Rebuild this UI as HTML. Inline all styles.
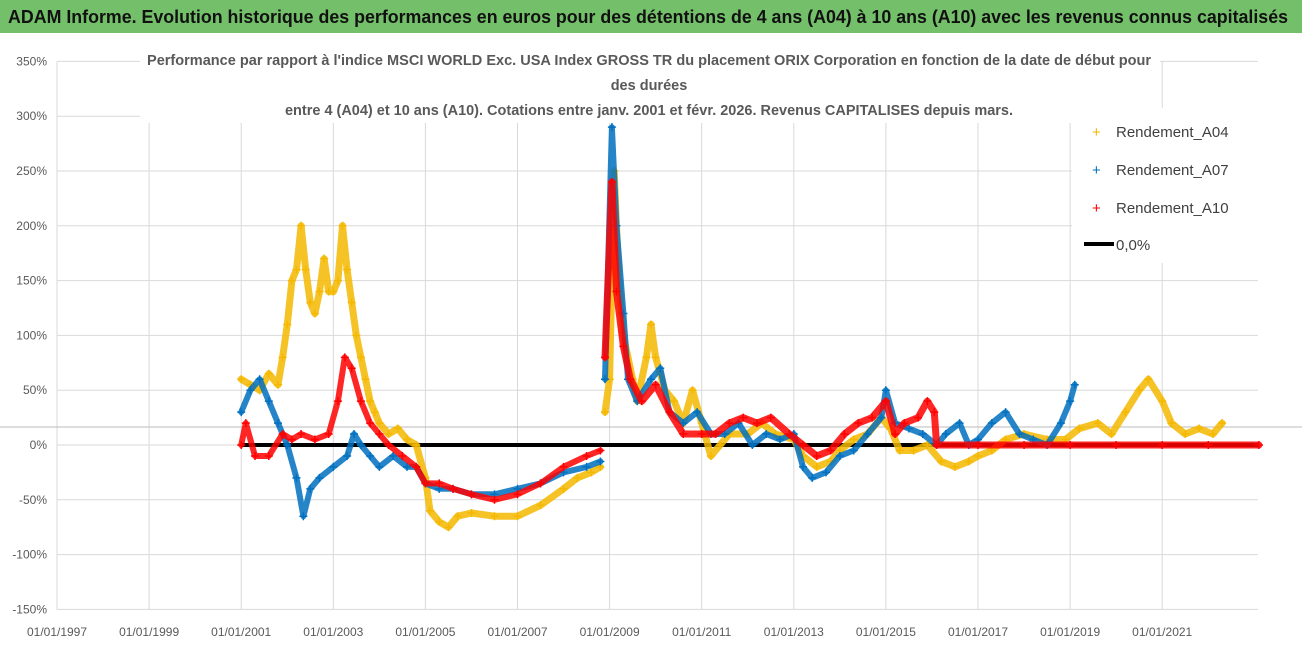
<!DOCTYPE html>
<html><head><meta charset="utf-8"><style>
html,body{margin:0;padding:0;background:#fff}
svg{display:block;font-family:"Liberation Sans",sans-serif}
</style></head><body>
<svg id="chart" width="1302" height="647" viewBox="0 0 1302 647">
<rect x="0" y="0" width="1302" height="647" fill="#fff"/>
<rect x="0" y="0" width="1302" height="33" fill="#74c06a"/>
<text x="8" y="23" font-size="18" font-weight="bold" fill="#111" textLength="1280" lengthAdjust="spacingAndGlyphs">ADAM Informe. Evolution historique des performances en euros pour des détentions de 4 ans (A04) à 10 ans (A10) avec les revenus connus capitalisés</text>
<g id="grid"></g>
<line x1="0" y1="427" x2="1302" y2="427" stroke="#bbb" stroke-width="1"/>
<rect x="140" y="45" width="1020" height="78" fill="#fff"/>
<g font-size="14.5" font-weight="bold" fill="#595959" text-anchor="middle">
<text x="649" y="65" textLength="1004" lengthAdjust="spacingAndGlyphs">Performance par rapport à l'indice MSCI WORLD Exc. USA Index GROSS TR  du placement ORIX Corporation en fonction de la date de début pour</text>
<text x="649" y="90">des durées</text>
<text x="649" y="115" textLength="728" lengthAdjust="spacingAndGlyphs">entre 4 (A04) et 10 ans (A10). Cotations entre janv. 2001 et févr. 2026. Revenus CAPITALISES depuis mars.</text>
</g>
<g id="axes"></g>
<g id="series"></g>
<g id="legend">
<rect x="1072" y="108" width="218" height="155" fill="#fff"/>
<text x="1092" y="137" font-size="15" fill="#f5b800">+</text>
<text x="1116" y="137" font-size="15" fill="#404040">Rendement_A04</text>
<text x="1092" y="175" font-size="15" fill="#0070c0">+</text>
<text x="1116" y="175" font-size="15" fill="#404040">Rendement_A07</text>
<text x="1092" y="213" font-size="15" fill="#ff0000">+</text>
<text x="1116" y="213" font-size="15" fill="#404040">Rendement_A10</text>
<line x1="1084" y1="244" x2="1114" y2="244" stroke="#000" stroke-width="4"/>
<text x="1116" y="250" font-size="15" fill="#404040">0,0%</text>
</g>
</svg>
<script>
const yTicks=[350,300,250,200,150,100,50,0,-50,-100,-150];
const xTickYears=[1997,1999,2001,2003,2005,2007,2009,2011,2013,2015,2017,2019,2021];
const a04Dates=[2001.0,2001.2,2001.4,2001.6,2001.8,2001.9,2002.0,2002.1,2002.2,2002.3,2002.4,2002.5,2002.6,2002.7,2002.8,2002.9,2003.0,2003.1,2003.2,2003.3,2003.4,2003.5,2003.6,2003.7,2003.8,2003.9,2004.0,2004.2,2004.4,2004.6,2004.8,2005.0,2005.1,2005.3,2005.5,2005.7,2006.0,2006.5,2007.0,2007.5,2008.0,2008.3,2008.6,2008.8];
const a04Vals=[60,55,50,65,55,80,110,150,160,200,160,130,120,140,170,140,140,150,200,160,130,100,80,60,40,30,20,10,15,5,0,-30,-60,-70,-75,-65,-62,-65,-65,-55,-40,-30,-25,-20];
const a04bDates=[2008.9,2009.0,2009.1,2009.2,2009.3,2009.5,2009.6,2009.8,2009.9,2010.0,2010.2,2010.4,2010.6,2010.8,2011.0,2011.2,2011.4,2011.6,2012.0,2012.3,2012.6,2013.0,2013.2,2013.5,2013.8,2014.0,2014.3,2014.6,2014.9,2015.1,2015.3,2015.6,2015.9,2016.2,2016.5,2016.8,2017.0,2017.3,2017.6,2018.0,2018.5,2018.9,2019.2,2019.6,2019.9,2020.2,2020.5,2020.7,2021.0,2021.2,2021.5,2021.8,2022.1,2022.3];
const a04bVals=[30,60,250,150,100,60,40,80,110,80,50,40,20,50,20,-10,0,10,10,20,10,5,-10,-20,-15,-5,5,10,25,15,-5,-5,0,-15,-20,-15,-10,-5,5,10,5,5,15,20,10,30,50,60,40,20,10,15,10,20];
const a07Dates=[2001.0,2001.2,2001.4,2001.6,2001.8,2002.0,2002.2,2002.35,2002.5,2002.7,2003.0,2003.3,2003.45,2003.6,2003.8,2004.0,2004.3,2004.6,2004.8,2005.0,2005.3,2005.6,2006.0,2006.5,2007.0,2007.5,2008.0,2008.5,2008.8];
const a07Vals=[30,50,60,40,20,0,-30,-65,-40,-30,-20,-10,10,0,-10,-20,-10,-20,-20,-35,-40,-40,-45,-45,-40,-35,-25,-20,-15];
const a07bDates=[2008.9,2009.05,2009.15,2009.3,2009.4,2009.6,2009.9,2010.1,2010.3,2010.6,2010.9,2011.2,2011.5,2011.8,2012.1,2012.4,2012.7,2013.0,2013.2,2013.4,2013.7,2014.0,2014.3,2014.6,2014.9,2015.0,2015.2,2015.5,2015.8,2016.1,2016.3,2016.6,2016.8,2017.0,2017.3,2017.6,2017.9,2018.2,2018.5,2018.8,2019.0,2019.1];
const a07bVals=[60,290,200,120,60,40,60,70,30,20,30,10,10,20,0,10,5,10,-20,-30,-25,-10,-5,10,25,50,20,15,10,0,10,20,0,5,20,30,10,5,0,20,40,55];
const a10Dates=[2001.0,2001.1,2001.3,2001.6,2001.9,2002.1,2002.3,2002.6,2002.9,2003.1,2003.25,2003.4,2003.6,2003.8,2004.0,2004.2,2004.5,2004.8,2005.0,2005.3,2005.6,2006.0,2006.5,2007.0,2007.5,2008.0,2008.5,2008.8];
const a10Vals=[0,20,-10,-10,10,5,10,5,10,40,80,70,40,20,10,0,-10,-20,-35,-35,-40,-45,-50,-45,-35,-20,-10,-5];
const a10bDates=[2008.9,2009.05,2009.15,2009.3,2009.45,2009.7,2010.0,2010.3,2010.6,2011.0,2011.3,2011.6,2011.9,2012.2,2012.5,2012.9,2013.2,2013.5,2013.8,2014.1,2014.4,2014.7,2015.0,2015.2,2015.4,2015.7,2015.9,2016.05,2016.1,2017.0,2018.0,2019.0,2020.0,2021.0,2022.0,2023.1];
const a10bVals=[80,240,140,90,60,40,55,30,10,10,10,20,25,20,25,10,0,-10,-5,10,20,25,40,10,20,25,40,30,0,0,0,0,0,0,0,0];
const zeroStart=2001.0, zeroEnd=2023.1;

const NS='http://www.w3.org/2000/svg';
function X(yr){return 57+(yr-1997)*46.05;}
function Y(v){return 445-v*1.096;}
function mk(tag,attrs,parent){const e=document.createElementNS(NS,tag);for(const k in attrs)e.setAttribute(k,attrs[k]);parent.appendChild(e);return e;}
const grid=document.getElementById('grid'),axes=document.getElementById('axes'),ser=document.getElementById('series');
yTicks.forEach(t=>{
  const l=mk('line',{x1:57,x2:1258,y1:Y(t),y2:Y(t),stroke:'#d9d9d9','stroke-width':1},grid);
  
  
  const tx=mk('text',{x:47,y:Y(t)+4,'font-size':12,fill:'#595959','text-anchor':'end'},axes);
  tx.textContent=t+'%';
  
  
});
xTickYears.forEach(yr=>{
  const l=mk('line',{x1:X(yr),x2:X(yr),y1:Y(350),y2:Y(-150),stroke:'#d9d9d9','stroke-width':1},grid);
  
  
  const tx=mk('text',{x:X(yr),y:636,'font-size':12,fill:'#595959','text-anchor':'middle'},axes);
  tx.textContent='01/01/'+yr;
  
  
});
const zl=mk('line',{x1:X(zeroStart),x2:X(zeroEnd),y1:Y(0),y2:Y(0),stroke:'#000','stroke-width':4},ser);


function draw(dates,vals,color,name,w){
  const g=mk('g',{},ser);
  
  
  const pts=dates.map((d,i)=>X(d).toFixed(1)+','+Y(vals[i]).toFixed(1)).join(' ');
  mk('polyline',{points:pts,fill:'none',stroke:color,'stroke-width':w,'stroke-linejoin':'round','stroke-linecap':'round','stroke-opacity':0.85},g);
  dates.forEach((d,i)=>{
    const p=mk('path',{d:`M${X(d)-4},${Y(vals[i])}h8M${X(d)},${Y(vals[i])-4}v8`,stroke:color,'stroke-width':1.5},g);
    
    
  });
}
draw(a04Dates,a04Vals,'#f5b800','series-a04-part1',7);
draw(a04bDates,a04bVals,'#f5b800','series-a04-part2',7);
draw(a07Dates,a07Vals,'#0070c0','series-a07-part1',6);
draw(a07bDates,a07bVals,'#0070c0','series-a07-part2',6);
draw(a10Dates,a10Vals,'#ff0000','series-a10-part1',6);
draw(a10bDates,a10bVals,'#ff0000','series-a10-part2',7);
</script>
</body></html>
